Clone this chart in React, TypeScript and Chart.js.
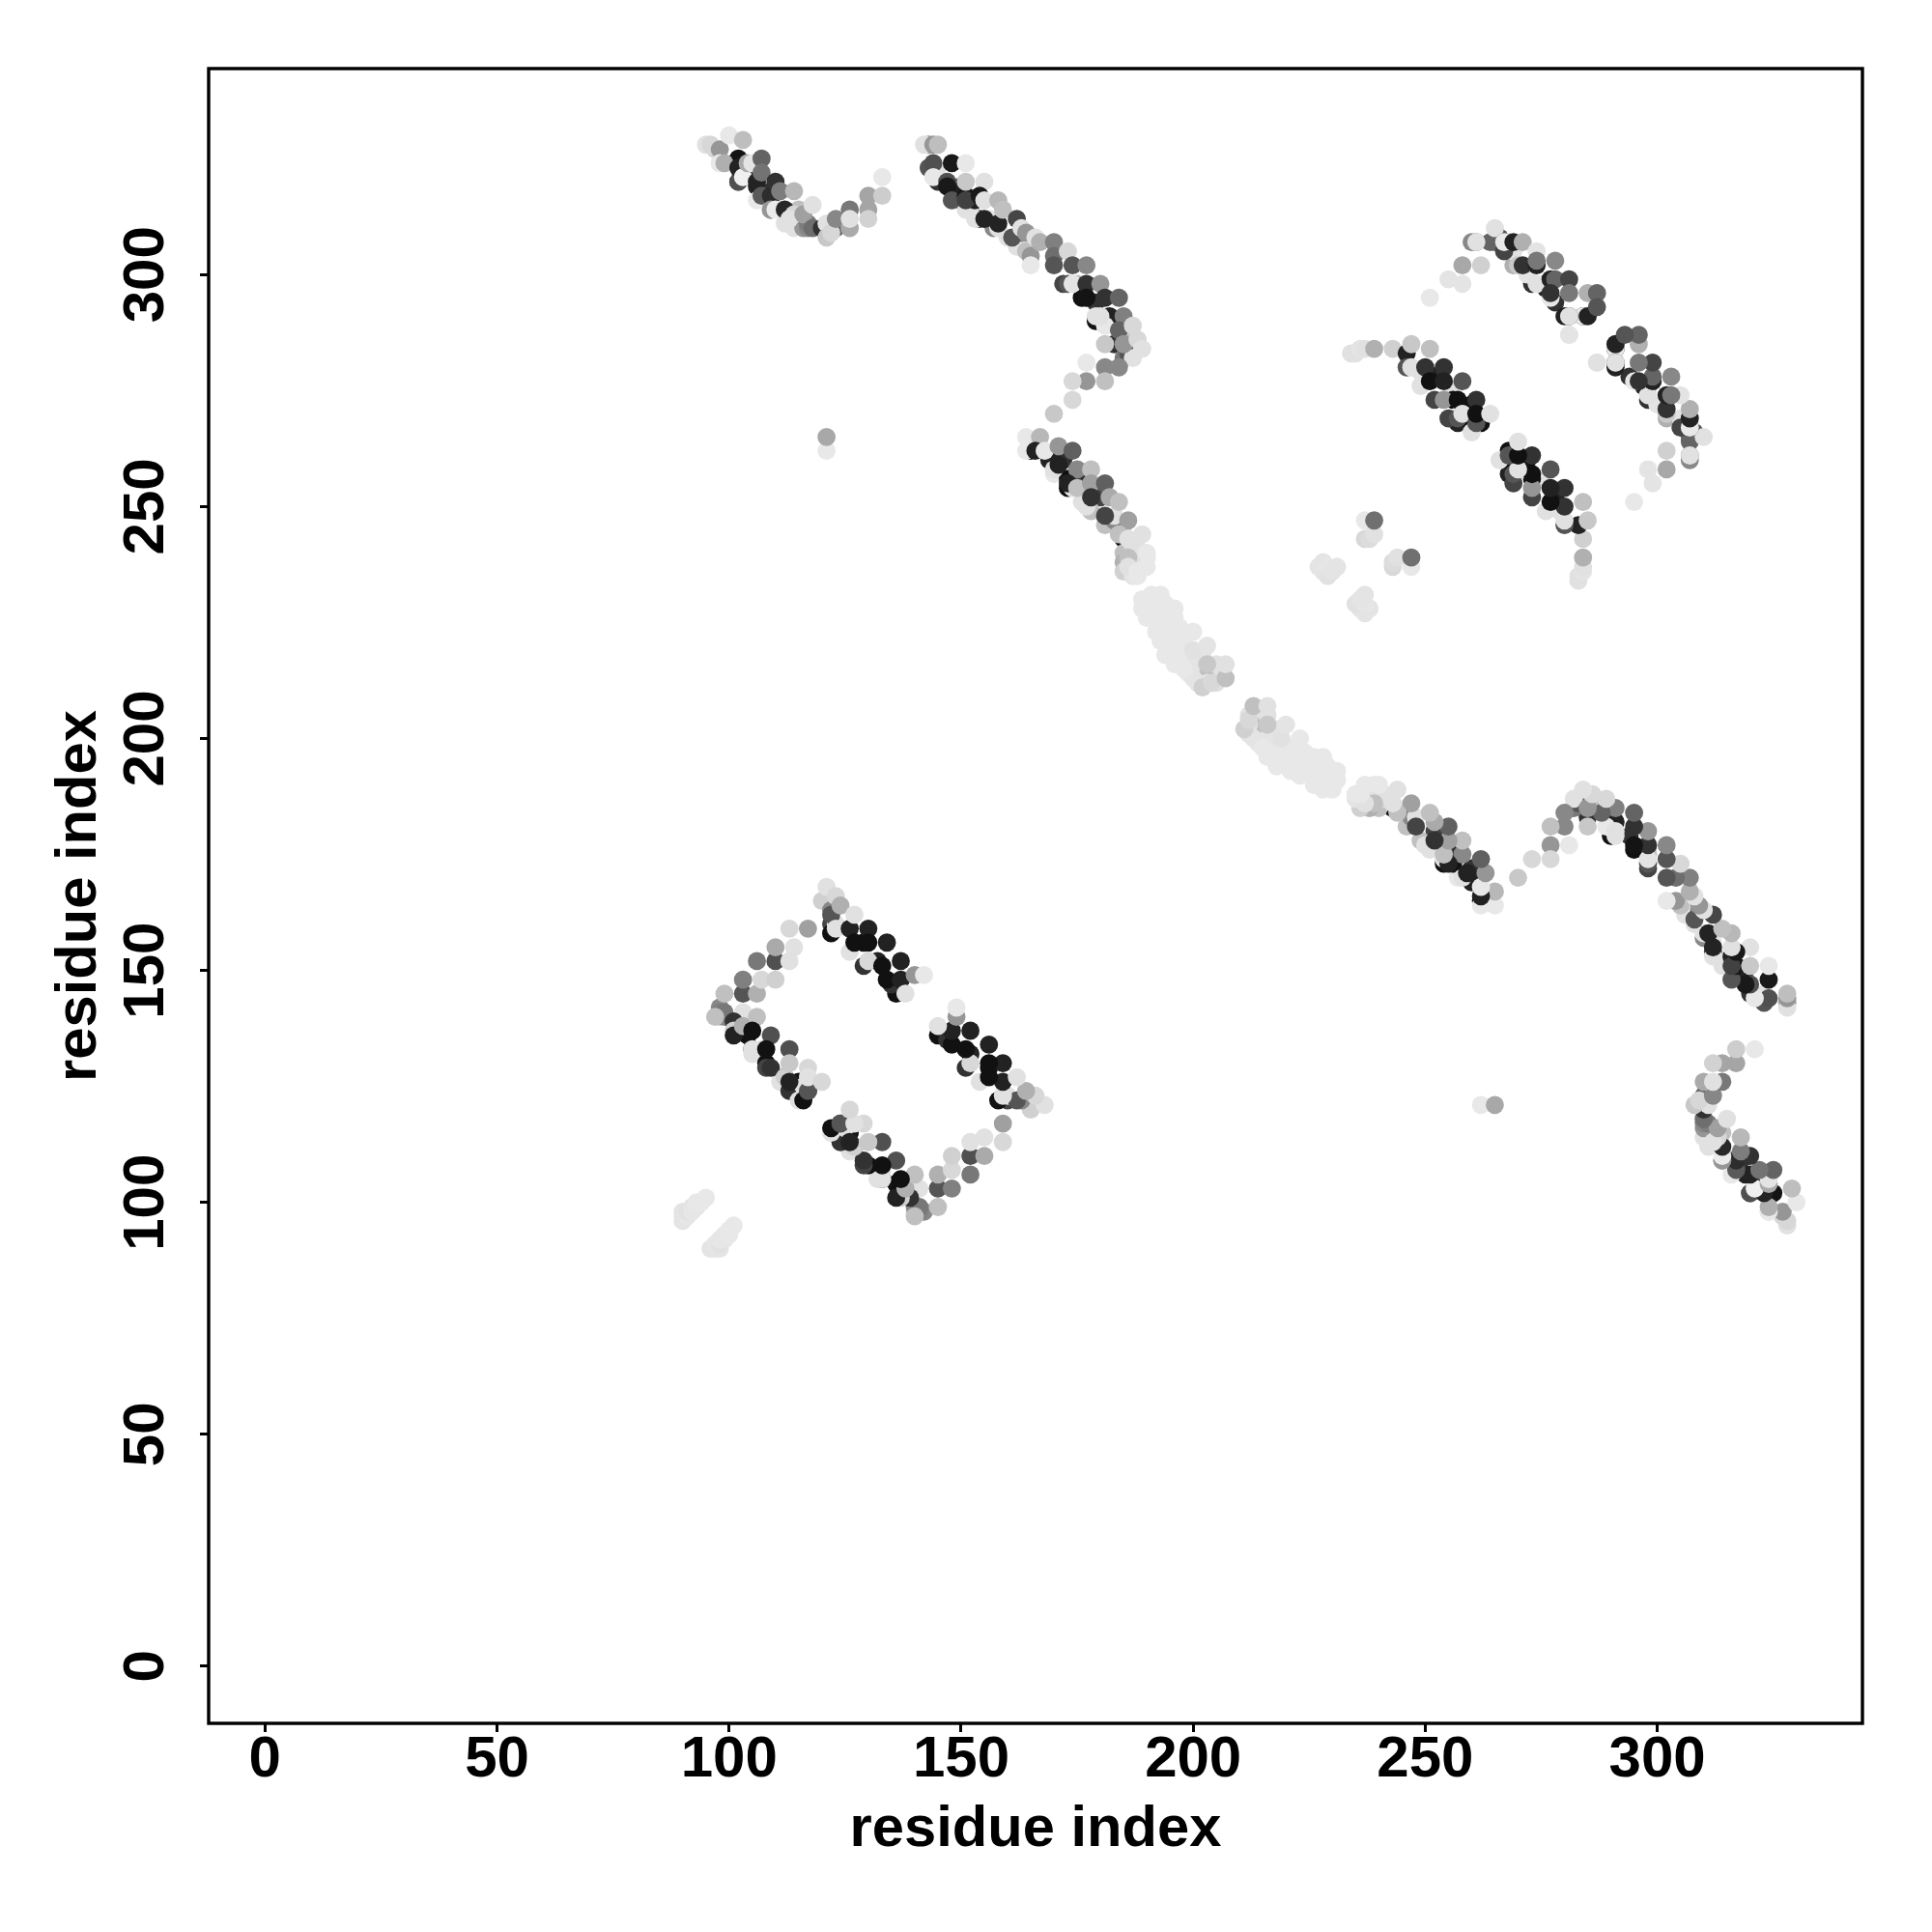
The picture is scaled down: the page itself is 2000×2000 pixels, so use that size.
import React, { useEffect, useRef } from "react";
import { Chart, registerables } from "chart.js";

Chart.register(...registerables);

// Each entry: [residue i, residue j, grey level]. The map is symmetric, so each contact is also plotted as (j, i).
const bars = [[90,96,228],[90,97,228],[90,98,228],[91,97,230],[91,98,225],[92,99,228],[92,98,230],[93,99,230],[93,100,232],[94,100,232],[95,101,232]];

const underA = [[97,327,215],[98,324,225],[102,325,20],[102,320,85],[103,323,232],[105,324,232],[105,321,50],[106,319,34],[109,318,50],[109,316,120],[109,314,150],[112,313,225],[113,312,50],[112,311,225],[114,310,225],[115,314,192],[116,310,150],[117,310,136],[120,310,225],[123,310,100]];
const strandA = [[95,328,225],[96,328,215],[98,327,150],[98,324,232],[99,324,175],[100,330,232],[102,320,80],[102,323,35],[103,321,240],[103,329,190],[104,324,170],[105,324,228],[106,320,35],[106,316,232],[107,325,100],[107,322,115],[107,317,90],[109,317,45],[110,320,50],[109,314,150],[111,318,125],[110,314,235],[112,314,40],[114,313,215],[114,318,184],[113,312,225],[117,311,125],[116,313,160],[118,315,225],[118,310,110],[120,310,50],[121,311,225],[121,308,200],[122,309,215],[123,312,135],[126,314,120],[126,310,170],[126,312,225],[130,317,165],[130,314,165],[130,312,210],[133,321,232],[133,317,205]];

const underB = [[143,328,150],[143,323,85],[145,320,50],[145,323,225],[150,319,34],[150,316,17],[151,314,225],[153,316,34],[154,312,68],[153,312,225],[156,312,225],[157,310,136],[158,310,225],[160,308,225],[162,306,225],[164,305,192],[163,309,136],[172,298,68],[175,298,192],[176,295,17],[179,294,50],[179,290,17],[179,291,225],[182,291,34],[181,289,232],[183,285,50],[185,282,120],[186,283,85],[187,282,225],[186,286,192]];
const strandB = [[142,328,225],[144,328,150],[145,328,190],[144,324,80],[144,321,232],[147,320,80],[148,324,25],[147,319,25],[148,316,85],[151,324,232],[151,317,25],[151,316,65],[151,320,200],[155,320,225],[154,317,25],[155,312,35],[155,316,225],[158,316,184],[158,311,35],[159,314,192],[162,312,70],[161,308,85],[163,310,225],[164,309,150],[165,304,150],[166,308,225],[167,307,176],[165,302,232],[170,307,128],[170,304,110],[170,302,85],[173,305,216],[174,302,85],[173,298,85],[174,298,228],[177,302,136],[177,298,50],[177,295,20],[180,298,150],[181,295,50],[180,291,225],[184,295,100],[185,291,128],[184,288,100],[187,289,216],[185,285,150],[188,286,216],[189,284,225],[181,285,200],[177,281,232],[181,280,136],[184,280,136],[181,277,192],[177,277,150],[174,277,216],[174,273,216],[170,270,200]];

const loners = [[121,262,232],[121,265,168]];

const underC = [[165,262,17],[169,260,34],[172,260,50],[170,257,232],[173,256,17],[173,254,17],[174,254,225],[176,255,50],[176,251,225],[180,252,68],[178,249,192],[181,246,192],[183,247,136],[183,248,225],[185,243,17],[185,244,225],[185,240,192],[185,238,176],[185,236,208],[187,241,216],[187,238,208],[187,235,228],[188,241,225],[188,238,225],[188,235,232],[190,239,232]];
const strandC = [[164,265,232],[164,262,232],[167,265,184],[166,262,34],[168,262,232],[171,263,150],[170,258,225],[171,259,34],[174,262,96],[175,258,136],[178,258,192],[173,255,34],[175,254,192],[178,255,160],[181,255,96],[177,250,225],[178,252,50],[182,252,170],[184,251,192],[181,248,68],[186,247,160],[184,244,192],[186,243,225],[189,244,225],[187,239,225],[186,239,192],[186,237,225],[188,236,232],[190,240,232],[190,237,232]];

const underDiagonal = [[201,215,180],[202,213,190],[201,212,200],[204,214,190]];
const diagonalFill = [[189,230,232],[189,228,232],[190,226,232],[191,231,232],[192,229,232],[193,226,232],[194,229,232],[195,225,232],[196,226,232],[192,223,232],[193,221,232],[195,222,232],[195,224,232],[196,222,232],[197,222,232],[198,221,232],[194,218,232],[195,220,232],[197,218,232],[198,220,232],[199,219,232],[196,216,232],[197,217,232],[199,217,232],[199,214,232],[200,216,228],[200,213,228],[201,212,228],[202,218,228],[203,212,225],[205,212,225],[205,216,225],[206,213,225]];
const diagonal = [[191,230,232],[193,231,232],[191,227,232],[196,228,232],[194,224,232],[197,224,232],[200,223,232],[196,219,232],[200,219,225],[203,220,228],[198,215,232],[202,211,208],[204,212,216],[203,216,200],[207,213,192],[207,216,225]];

const clusters = [[227,237,228],[228,238,228],[228,236,228],[229,235,225],[229,237,230],[230,236,228],[231,237,228],[237,247,232],[237,243,216],[238,243,220],[239,244,225],[239,247,112]];

const underD = [[249,279,225],[249,276,225],[252,278,34],[256,275,225],[256,273,17],[257,268,34],[258,271,232],[259,269,17],[260,272,17],[262,268,17],[255,269,68]];
const strandD = [[234,283,225],[235,283,225],[236,284,228],[237,284,225],[239,284,176],[243,284,208],[246,283,34],[247,285,200],[246,280,85],[247,280,225],[251,284,192],[250,280,50],[251,277,17],[254,280,50],[254,277,34],[252,273,68],[254,273,150],[258,277,85],[257,273,17],[257,269,85],[258,270,225],[261,273,50],[260,266,225],[261,268,85],[261,270,17],[264,270,225]];

const underE = [[260,307,136],[264,307,100],[266,308,85],[268,307,225],[269,302,176],[269,305,225],[272,301,17],[273,298,50],[272,300,228],[276,298,17],[278,294,50],[276,297,34],[280,291,34],[284,291,17],[284,291,232]];
const strandE = [[251,295,232],[255,299,228],[258,298,228],[258,302,168],[262,302,208],[261,307,120],[261,307,225],[265,307,100],[265,310,225],[267,307,68],[267,305,68],[267,307,232],[269,307,34],[271,307,176],[270,302,200],[271,302,50],[274,305,228],[274,298,225],[274,302,34],[274,303,120],[277,299,34],[277,295,232],[278,303,136],[278,299,100],[277,296,50],[281,299,68],[281,291,68],[281,291,225],[281,296,120],[281,287,225],[285,296,176],[285,291,34],[287,296,100],[287,293,85],[287,281,228]];

const edgeLeft = [[98,142,136],[98,141,128],[98,140,208],[99,140,136],[99,141,120],[99,145,192],[103,141,225],[103,145,85],[103,148,128],[106,145,176],[106,152,120],[107,148,216],[110,148,208],[110,152,80],[110,155,170],[113,152,225],[113,159,216],[114,155,225],[117,159,160]];
const underF = [[97,140,192],[101,139,50],[101,137,208],[104,136,17],[105,133,50],[105,132,225],[107,133,225],[108,130,17],[108,129,68],[112,127,17],[111,126,225],[113,124,50],[115,126,17],[115,122,225],[117,124,17],[116,125,225]];
const strandF = [[101,136,34],[103,138,176],[106,140,192],[105,137,17],[105,133,225],[109,136,80],[108,133,17],[113,133,80],[109,129,50],[112,127,208],[113,130,200],[113,126,34],[116,122,17],[117,124,85],[117,129,216],[117,127,225],[120,126,216]];
const underG = [[120,165,208],[122,163,136],[122,160,68],[122,158,17],[123,160,225],[129,156,17],[129,151,50],[136,145,17],[135,147,50],[132,152,34]];
const strandG = [[121,168,225],[122,162,85],[123,166,216],[124,164,176],[123,159,225],[126,159,34],[127,162,225],[126,154,225],[127,156,17],[130,159,34],[130,156,17],[134,156,34],[130,152,216],[133,151,17],[137,152,34],[134,148,17],[137,148,34],[140,149,150],[138,145,225],[142,149,232]];

const tickValues = [0, 50, 100, 150, 200, 250, 300];
const axisTitle = "residue index";

const contacts = [
  ...bars, ...edgeLeft, ...underF, ...strandF, ...underG, ...strandG,
  ...underA, ...strandA, ...loners, ...underB, ...strandB, ...underC, ...strandC,
  ...underDiagonal, ...diagonalFill, ...diagonal, ...clusters,
  ...underD, ...strandD, ...underE, ...strandE,
];

const family = "'Liberation Sans', Arial, sans-serif";
const tickFont = { family, weight: "bold" as const, size: 60 };
const titleFont = { family, weight: "bold" as const, size: 59.7 };

export default function App() {
  const ref = useRef<HTMLCanvasElement>(null);
  useEffect(() => {
    document.body.style.margin = "0";
    const points = [
      ...contacts.map(([i, j]) => ({ x: i, y: j })),
      ...contacts.map(([i, j]) => ({ x: j, y: i })),
    ];
    const greys = [...contacts, ...contacts].map(([, , g]) => `rgb(${g},${g},${g})`);
    const frame = {
      id: "frame",
      afterDraw(chart: any) {
        const { ctx, chartArea: a } = chart;
        ctx.save();
        ctx.strokeStyle = "#000";
        ctx.lineWidth = 3.4;
        ctx.strokeRect(a.left, a.top, a.right - a.left, a.bottom - a.top);
        ctx.restore();
      },
    };
    const setTicks = (scale: any) => {
      scale.ticks = tickValues.map((value) => ({ value }));
    };
    const grid = { drawOnChartArea: false, drawTicks: true, tickLength: 9, tickWidth: 3, tickColor: "#000" };
    const chart = new Chart(ref.current!, {
      type: "scatter",
      data: {
        datasets: [
          {
            data: points,
            pointRadius: 9.4,
            pointBorderWidth: 0,
            pointBackgroundColor: greys,
          },
        ],
      },
      plugins: [frame],
      options: {
        responsive: false,
        animation: false,
        layout: { padding: { left: 0, top: 71, right: 72, bottom: 0 } },
        plugins: { legend: { display: false }, tooltip: { enabled: false } },
        scales: {
          x: {
            type: "linear",
            min: -12.13,
            max: 344.2,
            afterBuildTicks: setTicks,
            afterFit: (s: any) => { s.height = 216; },
            grid,
            border: { display: false },
            ticks: { font: tickFont, color: "#000", padding: -7, maxRotation: 0, minRotation: 0, callback: (v: any) => String(v) },
            title: { display: true, text: axisTitle, font: titleFont, color: "#000", padding: { top: 70, bottom: 70 } },
          },
          y: {
            type: "linear",
            min: -12.3,
            max: 344.4,
            afterBuildTicks: setTicks,
            afterFit: (s: any) => { s.width = 216; },
            grid,
            border: { display: false },
            ticks: { font: tickFont, color: "#000", padding: 4, minRotation: 90, maxRotation: 90, crossAlign: "center", callback: (v: any) => String(v) },
            title: { display: true, text: axisTitle, font: titleFont, color: "#000", padding: { top: 47, bottom: 47 } },
          },
        },
      },
    } as any);
    return () => chart.destroy();
  }, []);
  return (
    <div style={{ position: "absolute", left: 0, top: 0, width: 2000, height: 2000 }}>
      <canvas ref={ref} width={2000} height={2000} style={{ display: "block" }} />
    </div>
  );
}
